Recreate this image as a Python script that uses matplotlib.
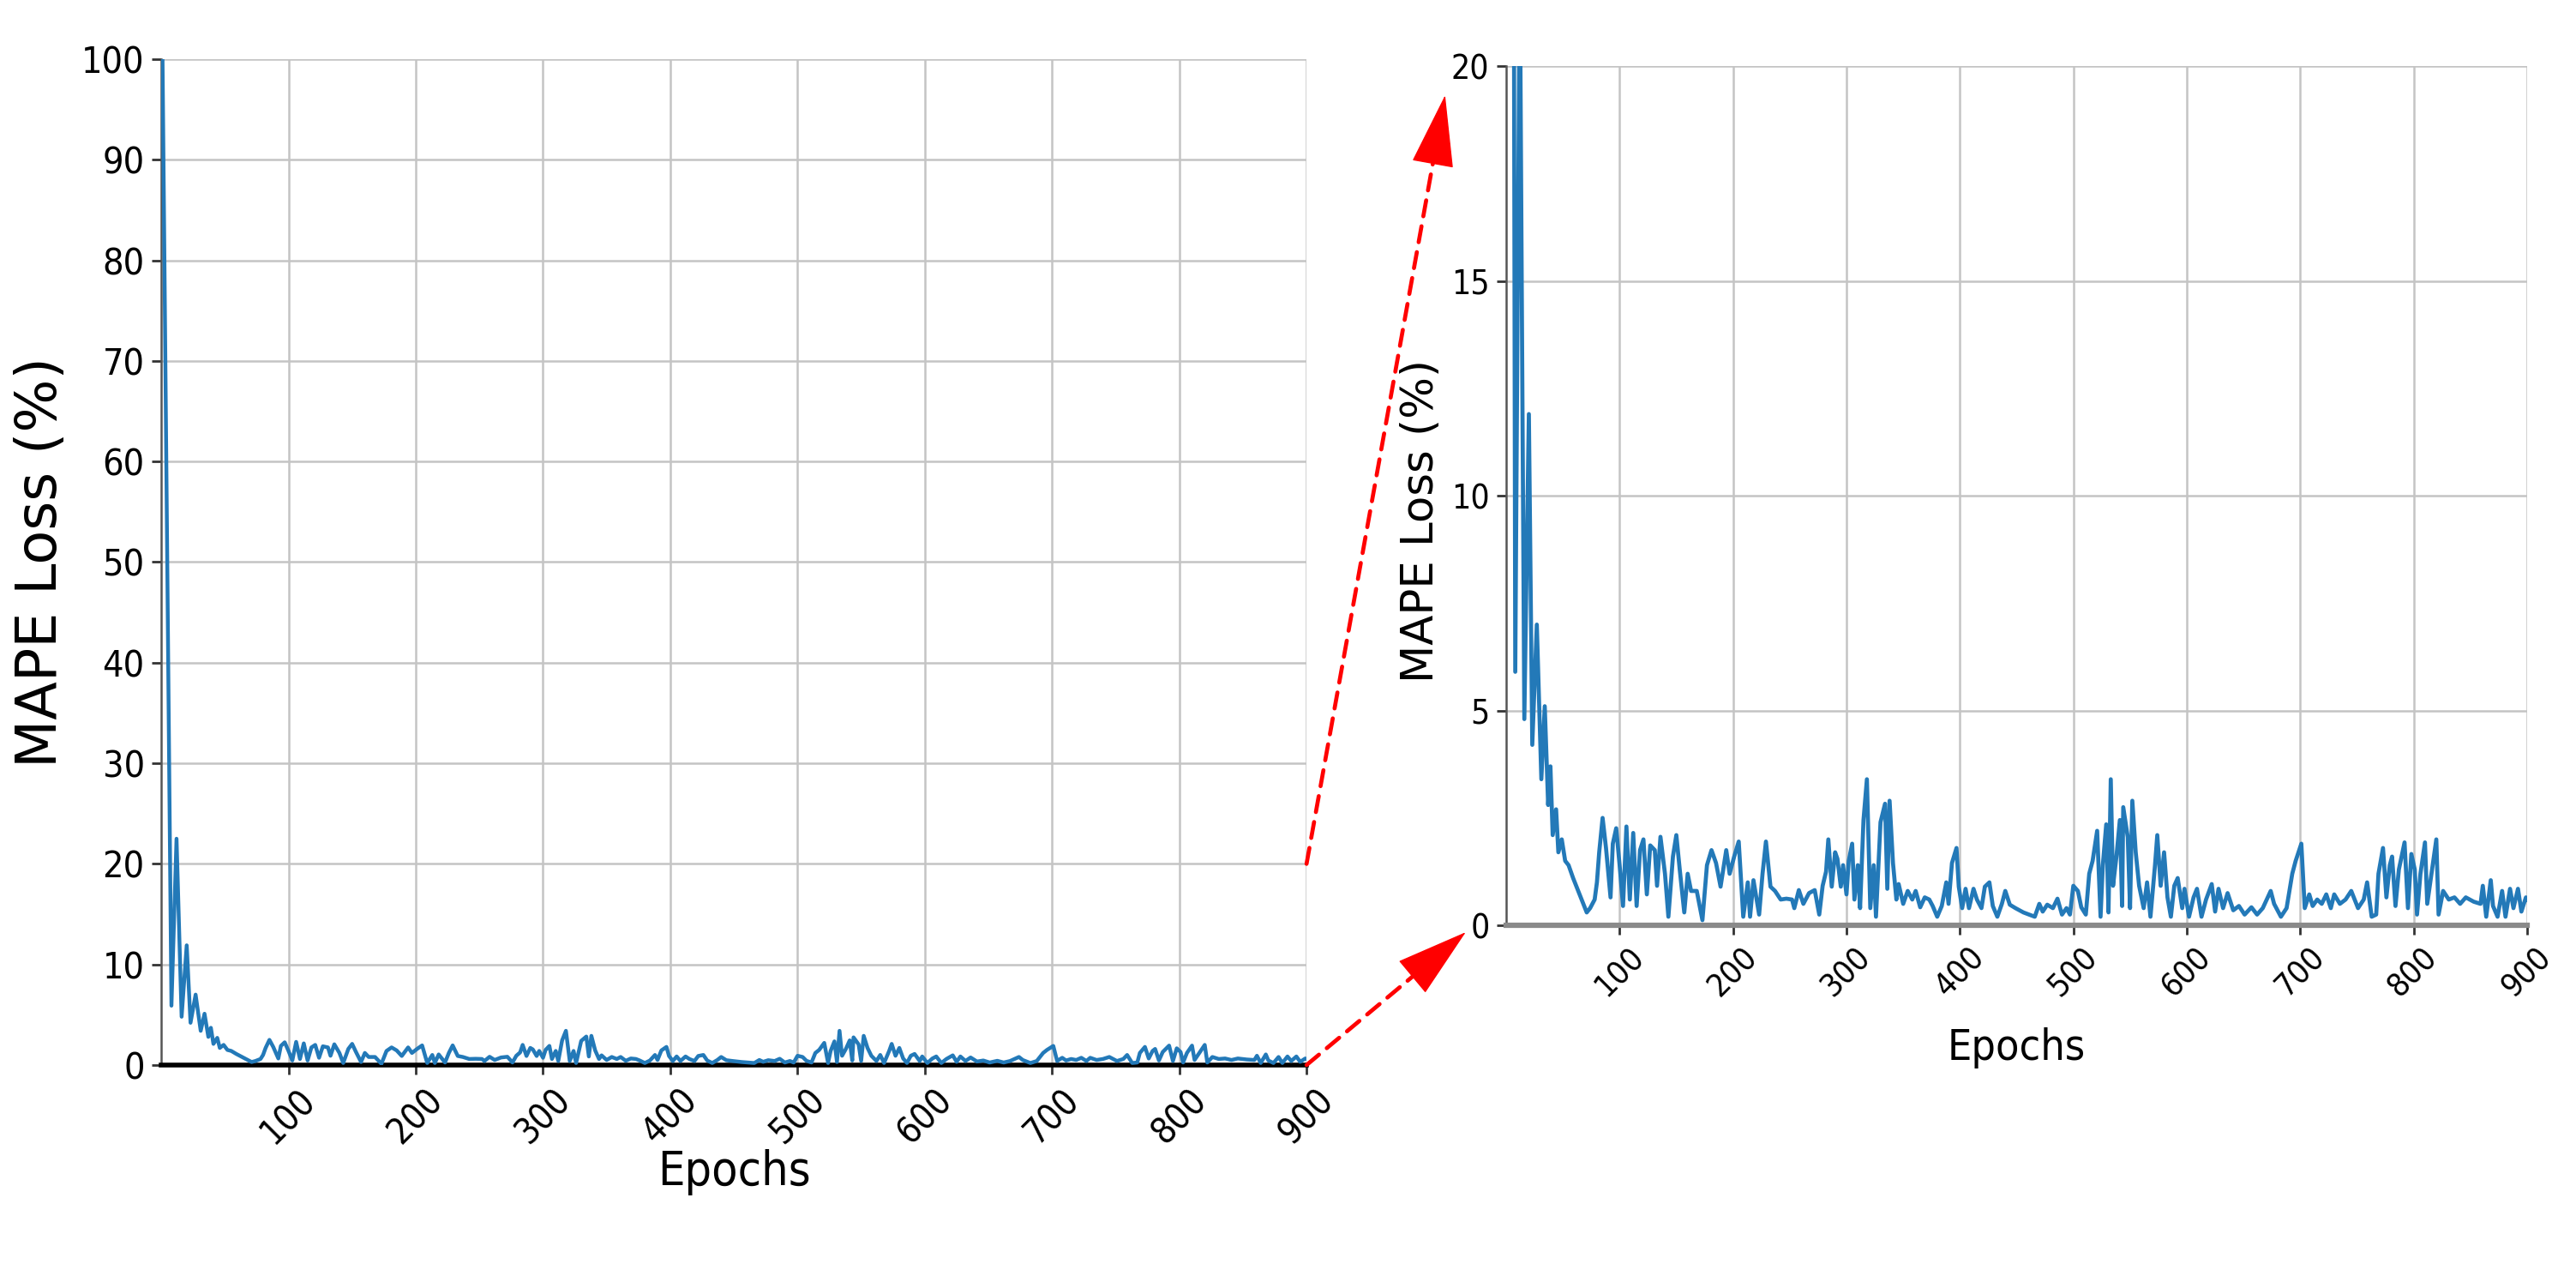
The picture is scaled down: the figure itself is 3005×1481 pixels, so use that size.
import numpy as np
import matplotlib
matplotlib.use("Agg")
import matplotlib.pyplot as plt

# MAPE loss per epoch as (epoch, loss %) pairs
loss_warmup = [(1, 100.0), (8, 5.9), (12, 22.5), (16, 4.8), (20, 11.9), (23, 4.2),
               (27, 7.0), (31, 3.4), (34, 5.1), (37, 2.8), (39, 3.7), (41, 2.1),
               (44, 2.7), (46, 1.7), (49, 2.0), (52, 1.5), (55, 1.4), (59, 1.1),
               (62, 0.9), (65, 0.7), (68, 0.5), (71, 0.3), (74, 0.4), (78, 0.6)]

loss_100_300 = [(80, 1.0), (82, 1.7), (85, 2.5), (88, 1.8), (92, 0.65), (94, 1.9),
                (97, 2.26), (100, 1.4), (103, 0.45), (106, 2.3), (109, 0.6), (112, 2.15),
                (115, 0.45), (118, 1.75), (121, 2.0), (124, 0.72), (127, 1.86), (131, 1.75),
                (133, 0.92), (136, 2.06), (140, 1.2), (143, 0.2), (147, 1.6), (150, 2.1),
                (153, 1.3), (157, 0.3), (160, 1.2), (163, 0.8), (168, 0.8), (173, 0.12),
                (177, 1.4), (181, 1.75), (185, 1.45), (189, 0.9), (194, 1.75), (197, 1.2),
                (201, 1.6), (205, 1.95), (209, 0.2), (213, 1.0), (215, 0.2), (218, 1.05),
                (223, 0.25), (226, 1.2), (229, 1.95), (233, 0.9), (237, 0.8), (242, 0.6),
                (247, 0.62), (252, 0.6), (254, 0.4), (258, 0.82), (262, 0.5), (267, 0.75),
                (272, 0.82), (276, 0.25), (279, 0.92), (282, 1.25), (284, 2.0), (287, 0.9)]

loss_300_500 = [(290, 1.7), (292, 1.55), (295, 0.9), (297, 1.4), (300, 0.72), (302, 1.5),
                (305, 1.9), (307, 0.6), (310, 1.4), (312, 0.4), (315, 2.45), (318, 3.4),
                (321, 0.4), (324, 1.4), (326, 0.2), (330, 2.4), (334, 2.83), (336, 0.85),
                (338, 2.9), (341, 1.45), (344, 0.6), (346, 0.96), (350, 0.5), (354, 0.8),
                (358, 0.6), (361, 0.8), (365, 0.42), (369, 0.65), (373, 0.6), (376, 0.45),
                (380, 0.2), (384, 0.45), (388, 1.0), (390, 0.5), (393, 1.45), (397, 1.8),
                (399, 0.9), (402, 0.4), (405, 0.85), (408, 0.4), (412, 0.85), (415, 0.6),
                (419, 0.4), (422, 0.9), (426, 1.0), (429, 0.45), (433, 0.2), (437, 0.5),
                (440, 0.8), (444, 0.48), (449, 0.4), (456, 0.3), (461, 0.25), (466, 0.2),
                (470, 0.5), (473, 0.32), (477, 0.48), (482, 0.4), (486, 0.62), (490, 0.25),
                (494, 0.4)]

loss_500_700 = [(497, 0.25), (500, 0.92), (504, 0.8), (507, 0.42), (511, 0.25), (514, 1.2),
                (517, 1.5), (521, 2.2), (524, 0.2), (526, 1.4), (529, 2.35), (531, 0.3),
                (533, 3.4), (535, 0.92), (538, 1.6), (541, 2.45), (543, 0.45), (544, 2.75),
                (548, 2.05), (550, 0.4), (552, 2.9), (555, 1.7), (558, 0.92), (562, 0.4),
                (565, 1.0), (568, 0.2), (572, 1.4), (574, 2.1), (577, 0.92), (580, 1.7),
                (583, 0.65), (586, 0.2), (589, 0.92), (592, 1.1), (596, 0.4), (598, 0.85),
                (602, 0.2), (606, 0.65), (609, 0.85), (613, 0.2), (617, 0.6), (622, 0.96),
                (625, 0.32), (628, 0.85), (632, 0.4), (636, 0.75), (641, 0.35), (646, 0.45),
                (651, 0.25), (657, 0.42), (662, 0.25), (667, 0.4), (674, 0.8), (677, 0.5),
                (683, 0.2), (688, 0.4), (693, 1.2), (696, 1.5)]

loss_700_900 = [(701, 1.9), (704, 0.4), (708, 0.72), (711, 0.45), (715, 0.6), (719, 0.5),
                (723, 0.72), (727, 0.4), (730, 0.72), (735, 0.5), (740, 0.6), (745, 0.8),
                (751, 0.4), (756, 0.6), (759, 1.0), (763, 0.2), (767, 0.25), (769, 1.2),
                (773, 1.8), (776, 0.65), (779, 1.4), (781, 1.6), (784, 0.45), (787, 1.3),
                (792, 1.93), (795, 0.4), (798, 1.66), (801, 1.3), (803, 0.25), (806, 1.2),
                (810, 1.93), (812, 0.5), (816, 1.25), (820, 2.0), (822, 0.25), (826, 0.8),
                (831, 0.6), (836, 0.65), (841, 0.5), (846, 0.65), (853, 0.55), (859, 0.5),
                (861, 0.92), (864, 0.2), (868, 1.05), (870, 0.45), (874, 0.2), (878, 0.8),
                (881, 0.2), (885, 0.85), (888, 0.4), (892, 0.85), (895, 0.32), (899, 0.65),
                (900, 0.6)]

x_ticks = [100, 200, 300, 400, 500, 600, 700, 800, 900]
y_ticks_full = [0, 10, 20, 30, 40, 50, 60, 70, 80, 90, 100]
y_ticks_zoom = [0, 5, 10, 15, 20]

# %%
points = loss_warmup + loss_100_300 + loss_300_500 + loss_500_700 + loss_700_900
epochs = [p[0] for p in points]
loss = [p[1] for p in points]

line_color = '#2379b8'
grid_color = '#c4c4c4'
tick_font = dict(family='DejaVu Sans', stretch='condensed')

fig = plt.figure(figsize=(30.05, 14.81), dpi=100)
ax1 = fig.add_axes([0.0626, 0.1614, 0.4446, 0.792])
ax2 = fig.add_axes([0.5847, 0.2714, 0.3963, 0.6766])


def style_axis(ax, ylim, yticks, bottom_color, bottom_lw, fs, lw):
    ax.plot(epochs, loss, color=line_color, lw=lw, zorder=3)
    ax.set_xlim(0, 900)
    ax.set_ylim(*ylim)
    ax.set_xticks(x_ticks)
    ax.set_yticks(yticks)
    ax.grid(True, color=grid_color, lw=1.8)
    ax.set_axisbelow(True)
    for side in ['top', 'right']:
        ax.spines[side].set_visible(False)
    ax.spines['left'].set_color('#555555')
    ax.spines['left'].set_linewidth(1.8)
    ax.spines['bottom'].set_color(bottom_color)
    ax.spines['bottom'].set_linewidth(bottom_lw)
    ax.tick_params(axis='both', length=8, width=2, color='#333333', pad=6)
    for lab in ax.get_xticklabels():
        lab.set_rotation(45)
        lab.set_fontproperties(matplotlib.font_manager.FontProperties(size=fs, **tick_font))
        lab.set_ha('center')
    for lab in ax.get_yticklabels():
        lab.set_fontproperties(matplotlib.font_manager.FontProperties(size=fs + 1, **tick_font))


style_axis(ax1, (0, 100), y_ticks_full, 'black', 4, 30, 3.2)
style_axis(ax2, (0, 20), y_ticks_zoom, '#8a8a8a', 4.5, 27, 3.4)

ax1.set_ylabel('MAPE Loss (%)', fontsize=47, family='DejaVu Sans')
ax1.yaxis.set_label_coords(-0.081, 0.5)
ax1.set_xlabel('Epochs', fontsize=40, family='DejaVu Sans', stretch='condensed')
ax1.xaxis.set_label_coords(0.5, -0.084)

ax2.set_ylabel('MAPE Loss (%)', fontsize=37, family='DejaVu Sans')
ax2.yaxis.set_label_coords(-0.062, 0.471)
ax2.set_xlabel('Epochs', fontsize=36, family='DejaVu Sans', stretch='condensed')
ax2.xaxis.set_label_coords(0.5, -0.119)


# red dashed zoom arrows from the left panel to the right one:
# dashed shaft plus a solid filled head at the tip
def zoom_arrow(start_data, tip_fig):
    start_px = ax1.transData.transform(start_data)
    tip_px = fig.transFigure.transform(tip_fig)
    d = (tip_px - start_px) / np.hypot(*(tip_px - start_px))
    back_fig = fig.transFigure.inverted().transform(tip_px - d * 60)
    ax1.annotate('', xy=back_fig, xycoords='figure fraction',
                 xytext=start_data, textcoords='data',
                 arrowprops=dict(arrowstyle='-', color='red', lw=3.4,
                                 linestyle=(0, (4, 2.5)), shrinkA=0, shrinkB=0),
                 annotation_clip=False)
    ax1.annotate('', xy=tip_fig, xycoords='figure fraction',
                 xytext=back_fig, textcoords='figure fraction',
                 arrowprops=dict(arrowstyle='-|>,head_length=0.75,head_width=0.22',
                                 color='red', lw=1, mutation_scale=75,
                                 shrinkA=0, shrinkB=0),
                 annotation_clip=False)


zoom_arrow((900, 20), (0.561, 0.925))
zoom_arrow((900, 0), (0.569, 0.266))

fig.savefig('out.png', dpi=100)
